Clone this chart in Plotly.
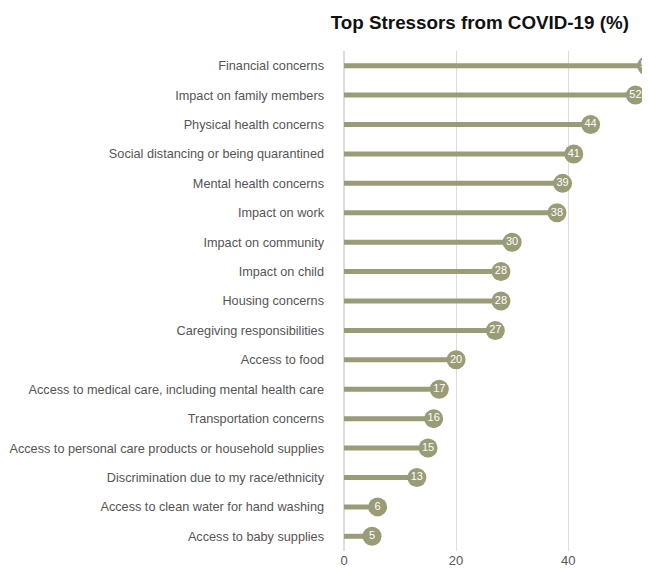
import plotly.graph_objects as go

categories = [
    "Financial concerns",
    "Impact on family members",
    "Physical health concerns",
    "Social distancing or being quarantined",
    "Mental health concerns",
    "Impact on work",
    "Impact on community",
    "Impact on child",
    "Housing concerns",
    "Caregiving responsibilities",
    "Access to food",
    "Access to medical care, including mental health care",
    "Transportation concerns",
    "Access to personal care products or household supplies",
    "Discrimination due to my race/ethnicity",
    "Access to clean water for hand washing",
    "Access to baby supplies",
]
values = [54, 52, 44, 41, 39, 38, 30, 28, 28, 27, 20, 17, 16, 15, 13, 6, 5]
x_ticks = [0, 20, 40]

color = "#9a9b77"
fam = "Liberation Sans, Arial, sans-serif"

seg_x, seg_y = [], []
for c, v in zip(categories, values):
    seg_x += [0, v, None]
    seg_y += [c, c, None]

fig = go.Figure()
fig.add_trace(go.Scatter(
    x=seg_x, y=seg_y, mode="lines",
    line=dict(color=color, width=5), hoverinfo="skip", showlegend=False,
    cliponaxis=False,
))
fig.add_trace(go.Scatter(
    x=values, y=categories, mode="markers+text",
    marker=dict(color=color, size=19, line=dict(width=0)),
    text=[str(v) for v in values], textposition="middle center",
    textfont=dict(color="white", size=11, family=fam),
    showlegend=False, cliponaxis=False,
))

fig.update_layout(
    width=642, height=561,
    margin=dict(l=336, r=0, t=43, b=18),
    paper_bgcolor="white", plot_bgcolor="white",
    font=dict(family=fam, color="#555555", size=13),
    title=dict(
        text="<b>Top Stressors from COVID-19 (%)</b>",
        x=0.735, xanchor="center", y=0.975, yanchor="middle",
        font=dict(size=18.8, color="#111111", family=fam),
    ),
    xaxis=dict(
        range=[0, 54.6], tickvals=x_ticks, showgrid=True, gridcolor="#dddddd",
        gridwidth=1, zeroline=True, zerolinecolor="#dddddd", showline=False,
        tickfont=dict(size=13, color="#555555"), fixedrange=True,
        automargin=False,
    ),
    yaxis=dict(
        categoryorder="array", categoryarray=categories[::-1],
        range=[-0.5, 16.5], showgrid=False, zeroline=False, showline=False,
        ticks="", ticklabelstandoff=19, automargin=False,
        tickfont=dict(size=12.7, color="#555555"),
    ),
)

fig.write_html("out.html")
